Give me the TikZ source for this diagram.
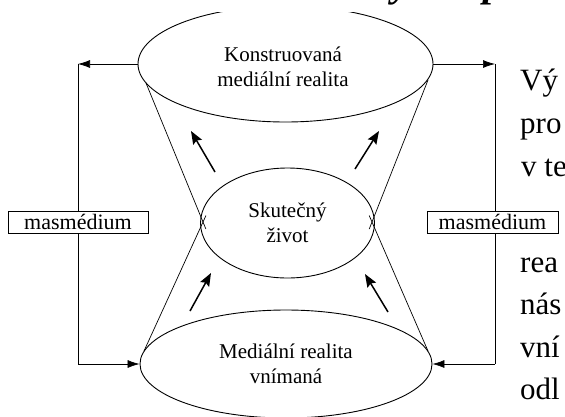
\documentclass[tikz,border=0pt]{standalone}
\usepackage{fontspec}
\newfontfamily\pagefont{Liberation Serif}
\usetikzlibrary{shapes.geometric,arrows.meta,calc}
\begin{document}
\begin{tikzpicture}[x=1pt,y=-1pt,
  ell/.style={ellipse,draw,line width=0.9pt,inner sep=0pt,align=center,font=\pagefont\fontsize{21}{25}\selectfont},
  mbox/.style={draw,line width=0.7pt,minimum height=22pt,inner sep=0pt,fill=white,font=\pagefont\fontsize{22}{25}\selectfont},
  fb/.style={line width=0.7pt},
  fbarrow/.style={fb,-{Latex[length=12pt,width=8pt]}},
  cone/.style={line width=0.7pt},
  big/.style={line width=1.5pt,-{Stealth[length=13pt,width=10pt,inset=2pt]}},
  pg/.style={anchor=base west,inner sep=0pt,font=\pagefont\fontsize{31}{31}\selectfont},
  hd/.style={anchor=base west,inner sep=0pt,font=\pagefont\bfseries\itshape\fontsize{40}{40}\selectfont},
]
\useasboundingbox (0,0) rectangle (565,416);
\clip (0,0) rectangle (565,416);
\fill[white] (0,0) rectangle (565,416);
% ellipses
\begin{scope}
  \clip (0,12) rectangle (565,416);
  \node[ell,minimum width=295pt,minimum height=116pt] (top) at (285.5,64) {};
\end{scope}
\node[align=center,inner sep=0pt,font=\pagefont\fontsize{21}{25}\selectfont] (toptext) at (283,67) {Konstruovaná\\mediální realita};
\node[ell,minimum width=174pt,minimum height=110pt] (mid) at (287.5,223) {Skutečný\\život};
\node[ell,minimum width=292pt,minimum height=108pt] (bot) at (286,364) {Mediální realita\\vnímaná};
% cone lines
\coordinate (tl) at (146,83);
\coordinate (xl) at (203,222);
\coordinate (bl) at (144,351);
\coordinate (tr) at (428,80);
\coordinate (xr) at (372,222);
\coordinate (br) at (428,351);
\draw[cone] (tl) -- ($(tl)!1.05!(xl)$);
\draw[cone] (bl) -- ($(bl)!1.05!(xl)$);
\draw[cone] (tr) -- ($(tr)!1.05!(xr)$);
\draw[cone] (br) -- ($(br)!1.05!(xr)$);
% thick arrows
\coordinate (a1) at (215,172); \coordinate (a2) at (191,131);
\coordinate (a3) at (355,169); \coordinate (a4) at (379,131);
\coordinate (a5) at (190,311); \coordinate (a6) at (211,273);
\coordinate (a7) at (388,312); \coordinate (a8) at (365,274);
\draw[big] (a1) -- (a2);
\draw[big] (a3) -- (a4);
\draw[big] (a5) -- (a6);
\draw[big] (a7) -- (a8);
% feedback loops
\coordinate (ctl) at (78,64);
\coordinate (cbl) at (78,364);
\coordinate (ctr) at (495,64);
\coordinate (cbr) at (495,364);
\draw[fbarrow] (top.west) -- (ctl);
\draw[fb] (ctl) -- (cbl);
\draw[fbarrow] (cbl) -- (bot.west);
\draw[fbarrow] (top.east) -- (ctr);
\draw[fb] (ctr) -- (cbr);
\draw[fbarrow] (cbr) -- (bot.east);
% page text fragments
\node[pg] (p1) at (520,90) {Vý};
\node[pg] (p2) at (520,133) {pro};
\node[pg] (p3) at (521,176) {v te};
\node[pg] (p4) at (520,272) {rea};
\node[pg] (p5) at (520,314) {nás};
\node[pg] (p6) at (520,357) {vní};
\node[pg] (p7) at (520,399) {odl};
% boxes
\node[mbox,minimum width=140pt] (ml) at (78,222) {masmédium};
\node[mbox,minimum width=131pt] (mr) at (492.5,222) {masmédium};
% heading fragments
\node[hd] (h1) at (392,-4) {y};
\node[hd] (h2) at (483,-4) {p};
\end{tikzpicture}
\end{document}
